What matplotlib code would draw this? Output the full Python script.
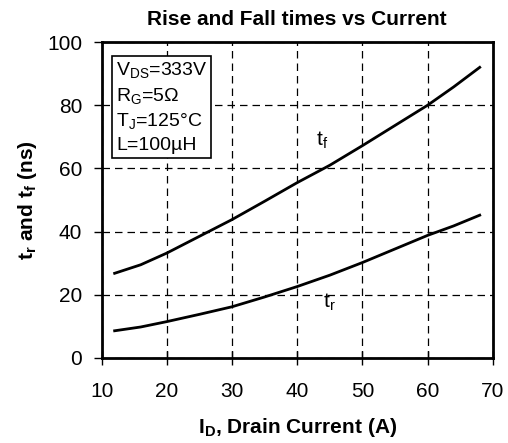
import matplotlib
matplotlib.use("Agg")
import matplotlib.pyplot as plt

plt.rcParams['font.family'] = ['Liberation Sans', 'DejaVu Sans']

# drain current (A)
current = [12, 16, 20, 25, 30, 35, 40, 45, 50, 55, 60, 64, 68]
# fall time (ns)
t_fall = [26.8, 29.5, 33.2, 38.5, 43.8, 49.6, 55.5, 61.0, 67.2, 73.6, 80.0, 85.8, 92.0]
# rise time (ns)
t_rise = [8.6, 9.8, 11.5, 13.8, 16.2, 19.3, 22.6, 26.2, 30.2, 34.5, 38.8, 41.8, 45.2]

fig, ax = plt.subplots(figsize=(5.08, 4.43), dpi=100)
fig.subplots_adjust(left=0.2, right=0.970, top=0.905, bottom=0.192)

ax.plot(current, t_fall, color="black", lw=2)
ax.plot(current, t_rise, color="black", lw=2)

ax.set_xlim(10, 70)
ax.set_ylim(0, 100)
ax.set_xticks(range(10, 71, 10))
ax.set_yticks(range(0, 101, 20))
ax.grid(True, color="black", linestyle=(0, (6, 4)), lw=0.9)
ax.tick_params(axis="x", direction="inout", length=10, width=1, pad=12, labelsize=15)
ax.tick_params(axis="y", direction="out", length=6, width=1, pad=8, labelsize=15)
for s in ax.spines.values():
    s.set_linewidth(2)

ax.set_title("Rise and Fall times vs Current", fontsize=15, fontweight="bold", pad=12)
ax.set_xlabel("I$_\\mathregular{D}$, Drain Current (A)", fontsize=15, fontweight="bold", labelpad=11)
ax.set_ylabel("t$_\\mathregular{r}$ and t$_\\mathregular{f}$ (ns)", fontsize=15, fontweight="bold", labelpad=6)

ax.text(43.8, 68.8, "t$_\\mathregular{f}$", fontsize=15, ha="center", va="center")
ax.text(45.0, 17.5, "t$_\\mathregular{r}$", fontsize=15, ha="center", va="center")

ax.text(12.2, 94.0,
        "V$_\\mathregular{DS}$=333V\nR$_\\mathregular{G}$=5\u03a9\nT$_\\mathregular{J}$=125\u00b0C\nL=100\u00b5H",
        fontsize=14, va="top", ha="left", linespacing=1.35,
        bbox=dict(boxstyle="square,pad=0.2", fc="white", ec="black", lw=1.2))

fig.savefig("out.png", dpi=100)
